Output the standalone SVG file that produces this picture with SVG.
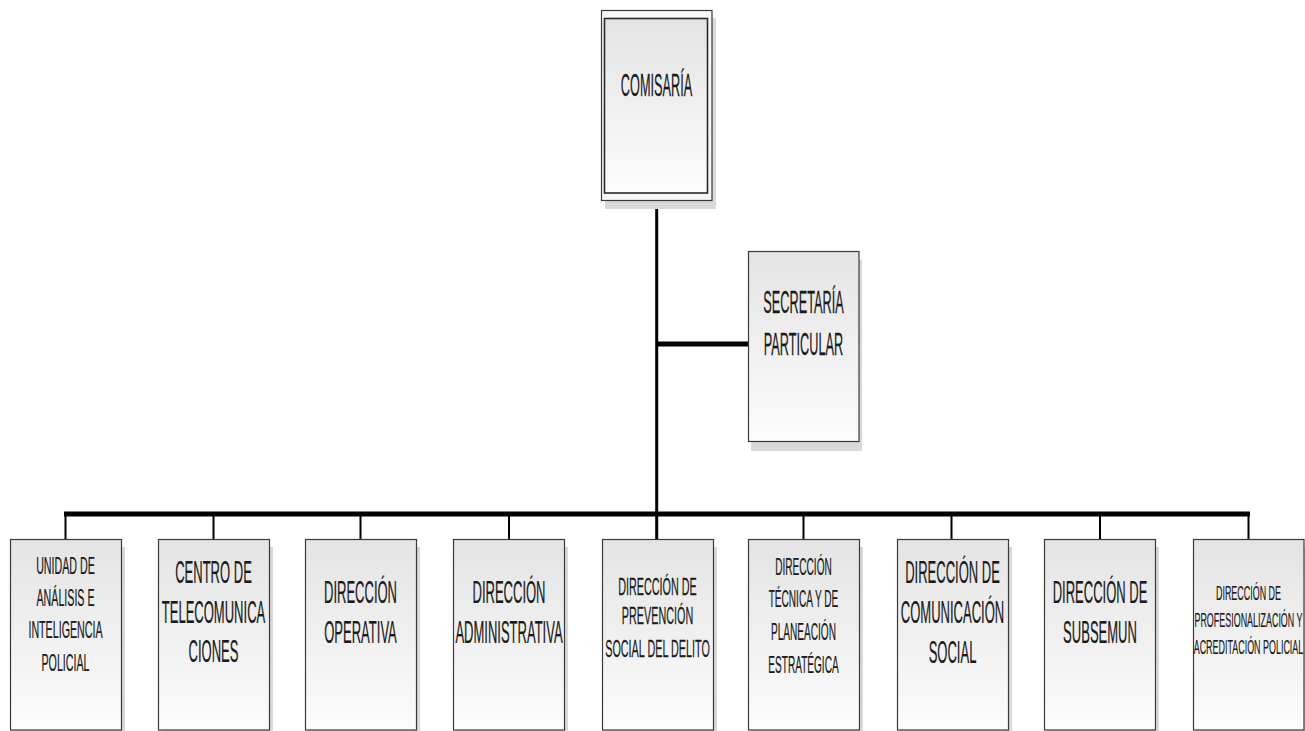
<svg xmlns="http://www.w3.org/2000/svg" width="1305" height="731" viewBox="0 0 1305 731">
<defs>
<linearGradient id="g" x1="0" y1="0" x2="0" y2="1">
<stop offset="0" stop-color="#e4e4e4"/>
<stop offset="1" stop-color="#fcfcfc"/>
</linearGradient>
</defs>
<style>
.sh{fill:#d9d9d9}
.bx{fill:url(#g);stroke:#3a3a3a;stroke-width:1.2}
.ob{fill:#f7f7f7;stroke:#3a3a3a;stroke-width:1.2}
.ib{fill:url(#g);stroke:#2a2a2a;stroke-width:1.6}
text{font-family:"Liberation Sans",Arial,sans-serif;fill:#1a1a1a;stroke:#1a1a1a;stroke-width:0.25;text-anchor:middle}
.b{font-size:31px}
.m{font-size:24px}
.s{font-size:20px;stroke-width:0.2}
.thick{stroke:#000;stroke-width:5;fill:none}
.main{stroke:#000;stroke-width:3;fill:none}
.drop{stroke:#000;stroke-width:2;fill:none}
</style>
<rect width="1305" height="731" fill="#fff"/>
<g id="connectors">
<line class="main" x1="656.7" y1="201" x2="656.7" y2="540"/>
<line class="thick" x1="656" y1="344" x2="748" y2="344"/>
<line class="thick" x1="64" y1="514" x2="1250" y2="514"/>
<line class="drop" x1="65.5" y1="514" x2="65.5" y2="540"/>
<line class="drop" x1="213.5" y1="514" x2="213.5" y2="540"/>
<line class="drop" x1="360.5" y1="514" x2="360.5" y2="540"/>
<line class="drop" x1="509" y1="514" x2="509" y2="540"/>
<line class="drop" x1="803.5" y1="514" x2="803.5" y2="540"/>
<line class="drop" x1="951.5" y1="514" x2="951.5" y2="540"/>
<line class="drop" x1="1100" y1="514" x2="1100" y2="540"/>
<line class="drop" x1="1248.5" y1="514" x2="1248.5" y2="540"/>
</g>
<g id="comisaria">
<rect class="sh" x="605" y="18" width="111" height="191"/>
<rect class="ob" x="601.5" y="10.5" width="110.5" height="190"/>
<rect class="ib" x="604.5" y="18.5" width="103" height="174.5"/>
<text class="b" transform="translate(656.5 96) scale(0.41 1)">COMISARÍA</text>
</g>
<g id="secretaria">
<rect class="sh" x="751" y="260" width="111" height="191"/>
<rect class="bx" x="748.5" y="251.5" width="110.5" height="190"/>
<text class="b" transform="translate(803.5 313) scale(0.41 1)">SECRETARÍA</text>
<text class="b" transform="translate(803.5 355) scale(0.41 1)">PARTICULAR</text>
</g>
<g id="unidad">
<rect class="sh" x="14" y="547" width="111" height="190"/>
<rect class="bx" x="10.5" y="539.5" width="111" height="190.5"/>
<text class="m" transform="translate(65.5 574) scale(0.445 1)">UNIDAD DE</text>
<text class="m" transform="translate(65.5 606) scale(0.445 1)">ANÁLISIS E</text>
<text class="m" transform="translate(65.5 638) scale(0.445 1)">INTELIGENCIA</text>
<text class="m" transform="translate(65.5 671) scale(0.445 1)">POLICIAL</text>
</g>
<g id="centro">
<rect class="sh" x="162" y="547" width="111" height="190"/>
<rect class="bx" x="158.5" y="539.5" width="111" height="190.5"/>
<text class="b" transform="translate(213.5 583) scale(0.42 1)">CENTRO DE</text>
<text class="b" transform="translate(213.5 623) scale(0.42 1)">TELECOMUNICA</text>
<text class="b" transform="translate(213.5 662) scale(0.42 1)">CIONES</text>
</g>
<g id="operativa">
<rect class="sh" x="309" y="547" width="111" height="190"/>
<rect class="bx" x="305.5" y="539.5" width="111" height="190.5"/>
<text class="b" transform="translate(360.5 603) scale(0.42 1)">DIRECCIÓN</text>
<text class="b" transform="translate(360.5 643) scale(0.42 1)">OPERATIVA</text>
</g>
<g id="administrativa">
<rect class="sh" x="457" y="547" width="111" height="190"/>
<rect class="bx" x="453.5" y="539.5" width="111" height="190.5"/>
<text class="b" transform="translate(509 603) scale(0.42 1)">DIRECCIÓN</text>
<text class="b" transform="translate(509 643) scale(0.42 1)">ADMINISTRATIVA</text>
</g>
<g id="prevencion">
<rect class="sh" x="606" y="547" width="111" height="190"/>
<rect class="bx" x="602.5" y="539.5" width="111" height="190.5"/>
<text class="m" transform="translate(657.5 595) scale(0.45 1)">DIRECCIÓN DE</text>
<text class="m" transform="translate(657.5 624) scale(0.45 1)">PREVENCIÓN</text>
<text class="m" transform="translate(657.5 657) scale(0.45 1)">SOCIAL DEL DELITO</text>
</g>
<g id="tecnica">
<rect class="sh" x="752" y="547" width="111" height="190"/>
<rect class="bx" x="748.5" y="539.5" width="111" height="190.5"/>
<text class="m" transform="translate(803.5 575) scale(0.42 1)">DIRECCIÓN</text>
<text class="m" transform="translate(803.5 607) scale(0.42 1)">TÉCNICA Y DE</text>
<text class="m" transform="translate(803.5 640) scale(0.42 1)">PLANEACIÓN</text>
<text class="m" transform="translate(803.5 673) scale(0.42 1)">ESTRATÉGICA</text>
</g>
<g id="comunicacion">
<rect class="sh" x="901" y="547" width="111" height="190"/>
<rect class="bx" x="897.5" y="539.5" width="111" height="190.5"/>
<text class="b" transform="translate(952.5 583) scale(0.42 1)">DIRECCIÓN DE</text>
<text class="b" transform="translate(952.5 623) scale(0.42 1)">COMUNICACIÓN</text>
<text class="b" transform="translate(952.5 663) scale(0.42 1)">SOCIAL</text>
</g>
<g id="subsemun">
<rect class="sh" x="1048" y="547" width="111" height="190"/>
<rect class="bx" x="1044.5" y="539.5" width="111" height="190.5"/>
<text class="b" transform="translate(1100 603) scale(0.42 1)">DIRECCIÓN DE</text>
<text class="b" transform="translate(1100 643) scale(0.42 1)">SUBSEMUN</text>
</g>
<g id="profesionalizacion">
<rect class="sh" x="1197" y="547" width="111" height="190"/>
<rect class="bx" x="1193.5" y="539.5" width="110.5" height="190.5"/>
<text class="s" transform="translate(1248.5 600) scale(0.447 1)">DIRECCIÓN DE</text>
<text class="s" transform="translate(1248.5 627) scale(0.447 1)">PROFESIONALIZACIÓN Y</text>
<text class="s" transform="translate(1248.5 654) scale(0.447 1)">ACREDITACIÓN POLICIAL</text>
</g>
</svg>
